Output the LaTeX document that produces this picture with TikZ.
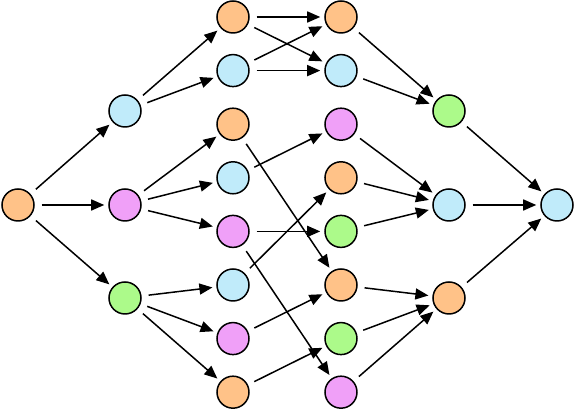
\documentclass[tikz,border=0pt]{standalone}
\usetikzlibrary{positioning,arrows.meta}

\definecolor{peach}{HTML}{FFC288}
\definecolor{sky}{HTML}{C0EBFA}
\definecolor{orchid}{HTML}{F0A0F8}
\definecolor{lime}{HTML}{ACFA8A}

\tikzset{
  blob/.style={circle, draw, line width=0.75pt, minimum size=16pt, inner sep=0pt},
  peachblob/.style={blob, fill=peach},
  skyblob/.style={blob, fill=sky},
  orchidblob/.style={blob, fill=orchid},
  limeblob/.style={blob, fill=lime},
  flow/.style={-{Triangle[length=6.5pt,width=5.5pt]}, line width=0.75pt,
    shorten <=3.5pt, shorten >=2pt},
}

\begin{document}
\begin{tikzpicture}[on grid]
                \useasboundingbox (0,0) rectangle (287.5pt,-205pt);
                \node [peachblob] (a) at (9pt,-102.5pt) {};
                \node [skyblob, above right=47pt and 53.5pt of a] (b1) {};
                \node [orchidblob, right=53.5pt of a] (b2) {};
                \node [limeblob, below right=46.5pt and 53.5pt of a] (b3) {};

                \node [peachblob, above right=47pt and 54pt of b1] (c1) {};
                \node [skyblob, below=26.8pt of c1] (c2) {};
                \node [peachblob, below=26.8pt of c2] (c3) {};
                \node [skyblob, below=26.8pt of c3] (c4) {};
                \node [orchidblob, below=26.8pt of c4] (c5) {};
                \node [skyblob, below=26.8pt of c5] (c6) {};
                \node [orchidblob, below=26.8pt of c6] (c7) {};
                \node [peachblob, below=26.8pt of c7] (c8) {};

                \node [peachblob, right=54pt of c1] (d1) {};
                \node [skyblob, right=54pt of c2] (d2) {};
                \node [orchidblob, right=54pt of c3] (d3) {};
                \node [peachblob, right=54pt of c4] (d4) {};
                \node [limeblob, right=54pt of c5] (d5) {};
                \node [peachblob, right=54pt of c6] (d6) {};
                \node [limeblob, right=54pt of c7] (d7) {};
                \node [orchidblob, right=54pt of c8] (d8) {};

                \node [limeblob, right=162pt of b1] (f1) {};
                \node [skyblob, right=162pt of b2] (f2) {};
                \node [peachblob, right=162pt of b3] (f3) {};
                \node [skyblob, right=54pt of f2] (g) {};

                \draw [flow] (a) -- (b1);
                \draw [flow] (a) -- (b2);
                \draw [flow] (a) -- (b3);
                \draw [flow] (b1) -- (c1);
                \draw [flow] (b1) -- (c2);
                \draw [flow] (b2) -- (c3);
                \draw [flow] (b2) -- (c4);
                \draw [flow] (b2) -- (c5);
                \draw [flow] (b3) -- (c6);
                \draw [flow] (b3) -- (c7);
                \draw [flow] (b3) -- (c8);

                \draw [flow] (c1) -- (d1);
                \draw [flow] (c1) -- (d2);
                \draw [flow] (c2) -- (d1);
                \draw [flow] (c2) -- (d2);
                \draw [flow] (c3) -- (d6);
                \draw [flow] (c4) -- (d3);
                \draw [flow] (c5) -- (d5);
                \draw [flow] (c5) -- (d8);
                \draw [flow] (c6) -- (d4);
                \draw [flow] (c7) -- (d6);
                \draw [flow] (c8) -- (d7);

                \draw [flow] (d1) -- (f1);
                \draw [flow] (d2) -- (f1);
                \draw [flow] (d3) -- (f2);
                \draw [flow] (d4) -- (f2);
                \draw [flow] (d5) -- (f2);
                \draw [flow] (d6) -- (f3);
                \draw [flow] (d7) -- (f3);
                \draw [flow] (d8) -- (f3);

                \draw [flow] (f1) -- (g);
                \draw [flow] (f2) -- (g);
                \draw [flow] (f3) -- (g);
    \end{tikzpicture}
\end{document}
